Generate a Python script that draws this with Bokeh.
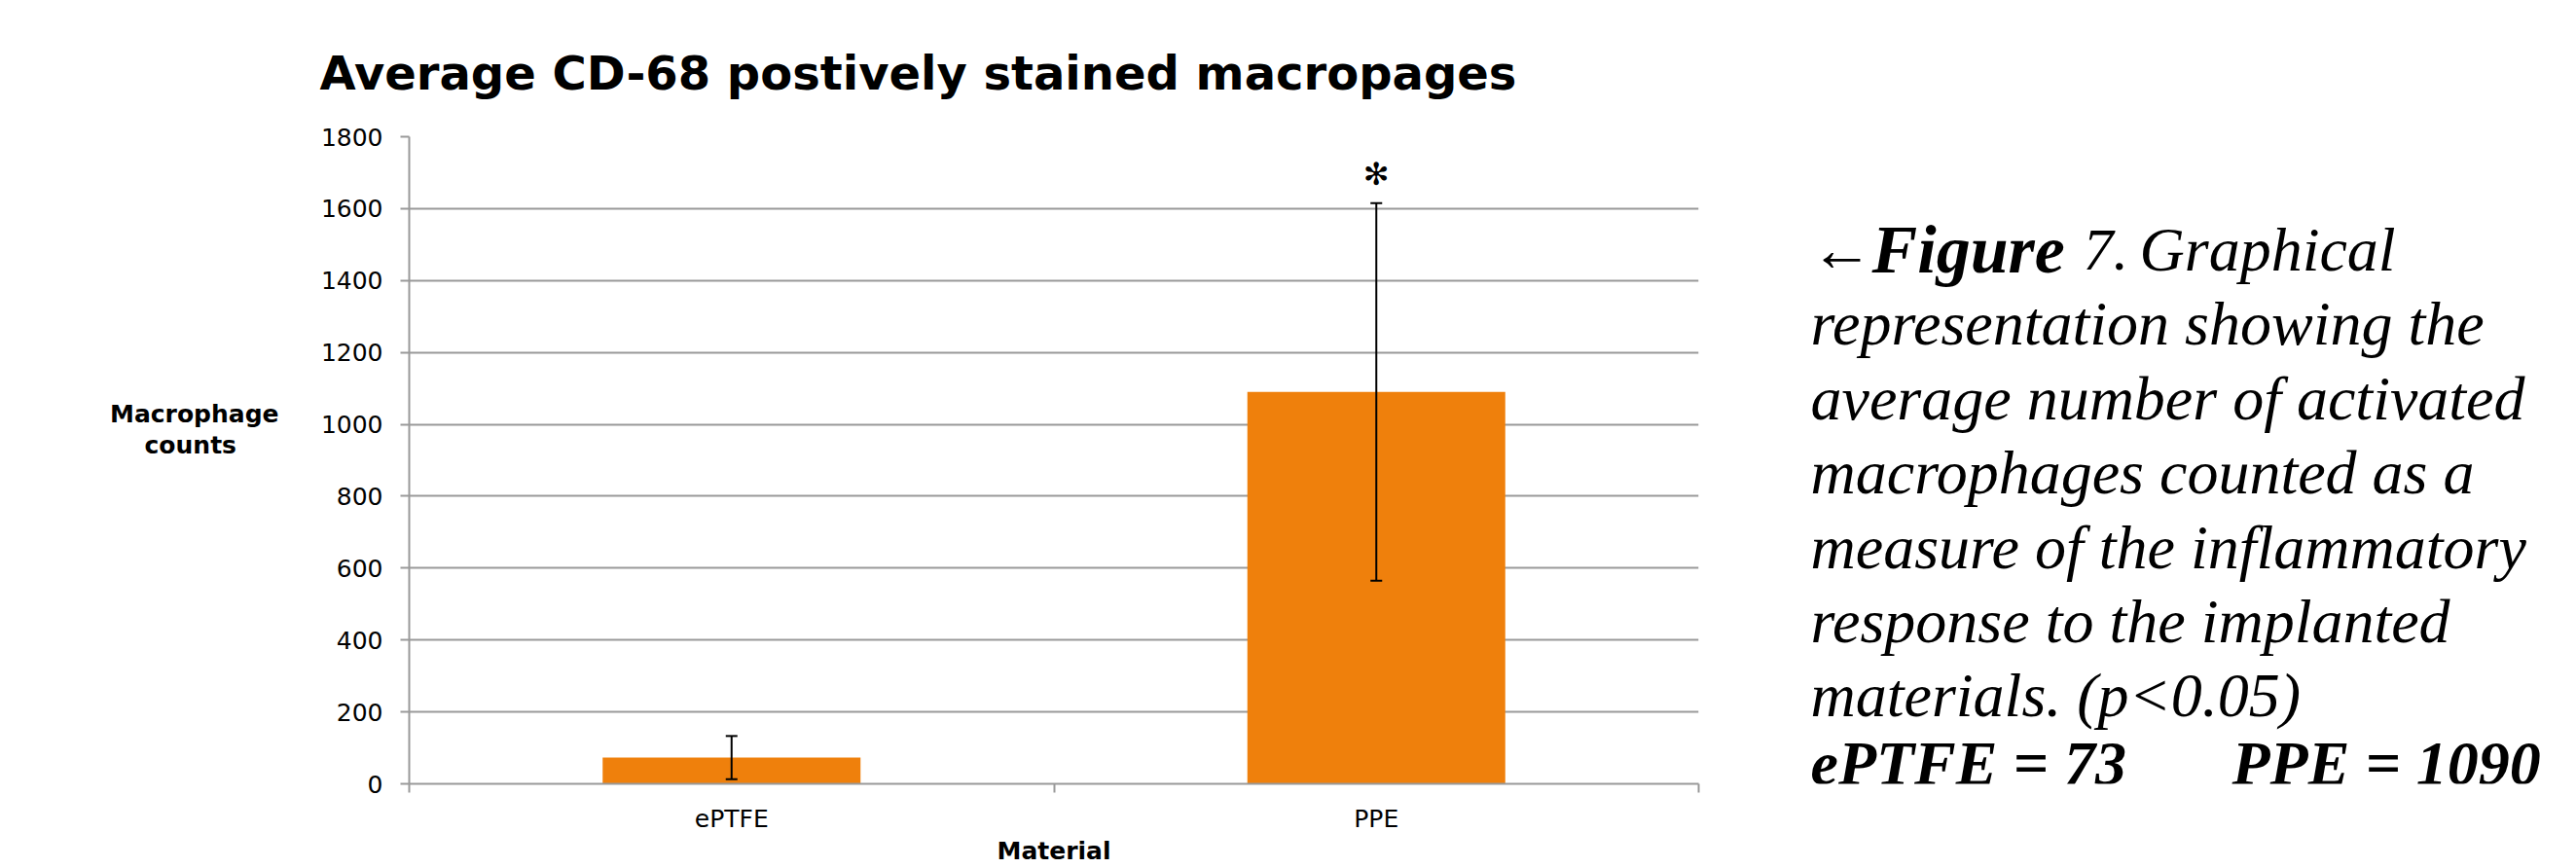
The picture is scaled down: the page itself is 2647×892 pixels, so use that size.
from bokeh.plotting import figure
from bokeh.models import (Range1d, ColumnDataSource, Whisker, TeeHead, Label,
                          FixedTicker, LinearAxis)
from bokeh.layouts import row
from bokeh.core.properties import value
from bokeh.embed import file_html
from bokeh.resources import INLINE

# ---- data ----
categories = ["ePTFE", "PPE"]
means = [73, 1090]
errors = [60, 525]
y_ticks = [0, 200, 400, 600, 800, 1000, 1200, 1400, 1600, 1800]
title_text = "Average CD-68 postively stained  macropages"
y_label_lines = ["Macrophage", "counts"]
x_label = "Material"
caption_lines = [
    "representation showing the",
    "average number of activated",
    "macrophages counted  as a",
    "measure of the inflammatory",
    "response to the implanted",
    "materials. (p<0.05)",
]

centers = [i + 0.5 for i in range(len(categories))]
bounds = [i for i in range(len(categories) + 1)]
src = ColumnDataSource(dict(
    x=centers, top=means,
    upper=[m + e for m, e in zip(means, errors)],
    lower=[m - e for m, e in zip(means, errors)],
))

H = 892
W1 = 1800          # chart part
W2 = 2647 - W1     # caption part
L, R, T, B = 420, 1745, 140, 805

p = figure(width=W1, height=H, x_range=Range1d(0, len(categories)),
           y_range=Range1d(0, 1800), output_backend="svg",
           toolbar_location=None, min_border_left=L, min_border_right=W1 - R,
           min_border_top=T, min_border_bottom=H - B)
p.outline_line_color = None
p.background_fill_color = "white"
p.border_fill_color = "white"

# title
p.title.text = title_text
p.title.text_font = "DejaVu Sans"
p.title.text_font_size = "48px"
p.title.text_font_style = "bold"
p.title.text_color = "black"
p.title.align = "left"
p.title.offset = 328 - L
p.title.standoff = 75

grey = "#999999"
p.xgrid.grid_line_color = None
p.ygrid.grid_line_color = grey
p.ygrid.grid_line_width = 2

# y axis
yax = p.yaxis[0]
yax.ticker = FixedTicker(ticks=y_ticks)
yax.axis_line_color = grey
yax.axis_line_width = 2
yax.major_tick_line_color = grey
yax.major_tick_line_width = 2
yax.major_tick_out = 9
yax.major_tick_in = 0
yax.minor_tick_line_color = None
yax.major_label_standoff = 18
yax.major_label_text_font = "DejaVu Sans"
yax.major_label_text_font_size = "25px"
yax.major_label_text_color = "black"

# second left axis carrying only the horizontal y title
# (the second line is padded with no-break spaces so that it sits centred
#  under the first; two empty lines lift the block to its place)
pad = "\u00a0" * 5
y_label = y_label_lines[0] + "\n" + y_label_lines[1] + pad + "\n\n"
ylab_ax = LinearAxis(ticker=FixedTicker(ticks=[]),
                     axis_line_color=None, major_tick_line_color=None,
                     minor_tick_line_color=None, major_tick_out=0,
                     minor_tick_out=0, major_label_text_font_size="1px",
                     axis_label=y_label, axis_label_orientation="horizontal",
                     axis_label_standoff=40, axis_label_text_font="DejaVu Sans",
                     axis_label_text_font_size="25px",
                     axis_label_text_font_style="bold",
                     axis_label_text_color="black",
                     axis_label_text_line_height=1.1)
p.add_layout(ylab_ax, "left")

# x axis
xax = p.xaxis[0]
xax.ticker = FixedTicker(ticks=centers, minor_ticks=bounds)
xax.major_label_overrides = {c: n for c, n in zip(centers, categories)}
xax.axis_line_color = grey
xax.axis_line_width = 2
xax.major_tick_line_color = None
xax.major_tick_out = 0
xax.major_tick_in = 0
xax.minor_tick_line_color = grey
xax.minor_tick_line_width = 2
xax.minor_tick_out = 9
xax.minor_tick_in = 0
xax.major_label_standoff = 12
xax.major_label_text_font = "DejaVu Sans"
xax.major_label_text_font_size = "25px"
xax.major_label_text_color = "black"
xax.axis_label = x_label
xax.axis_label_standoff = 1
xax.axis_label_text_font = "DejaVu Sans"
xax.axis_label_text_font_size = "25px"
xax.axis_label_text_font_style = "bold"
xax.axis_label_text_color = "black"

# bars
p.vbar(x="x", top="top", width=0.4, source=src, fill_color="#EF800C",
       line_color=None)

# error bars
p.add_layout(Whisker(source=src, base="x", upper="upper", lower="lower",
                     line_color="black", line_width=2, level="annotation",
                     upper_head=TeeHead(size=12, line_color="black", line_width=2),
                     lower_head=TeeHead(size=12, line_color="black", line_width=2)))

# significance marker above PPE
sig_src = ColumnDataSource(dict(x=[centers[1]], y=[means[1] + errors[1] + 80],
                                t=["\u273B"]))
p.text(x="x", y="y", text="t", source=sig_src, text_font=value("DejaVu Sans"),
       text_font_size="32px", text_align="center", text_baseline="middle",
       text_color="black")

# ---- caption panel (its frame lines up with the chart frame; page pixels) ----
c = figure(width=W2, height=H, x_range=Range1d(W1, W1 + W2),
           y_range=Range1d(B, T), output_backend="svg", toolbar_location=None,
           x_axis_type=None, y_axis_type=None, min_border=0)
c.outline_line_color = None
c.grid.grid_line_color = None
c.background_fill_color = "white"
c.border_fill_color = "white"

SHIFT = 19   # measured offset of the label baseline


def lab(px, py, text, style="italic", size="64px"):
    c.add_layout(Label(x=px, y=py - SHIFT, text=text, text_font="Liberation Serif",
                       text_font_size=size, text_font_style=style,
                       text_align="left", text_baseline="alphabetic",
                       text_color="black"))


base0, step = 275, 76.4
lab(1860, base0, "\u2190", "normal")
lab(1923, base0, "Figure", "bold italic", "70px")
lab(2140, base0, "7.", "italic", "62px")
lab(2198, base0, "Graphical", "italic")
for i, line in enumerate(caption_lines):
    lab(1860, base0 + step * (i + 1), line)
last = min(base0 + step * 7, B - 2)
lab(1860, last, "ePTFE = 73", "bold italic")
lab(2293, last, "PPE = 1090", "bold italic")

layout = row(p, c)
open("out.html", "w").write(file_html(layout, INLINE))
